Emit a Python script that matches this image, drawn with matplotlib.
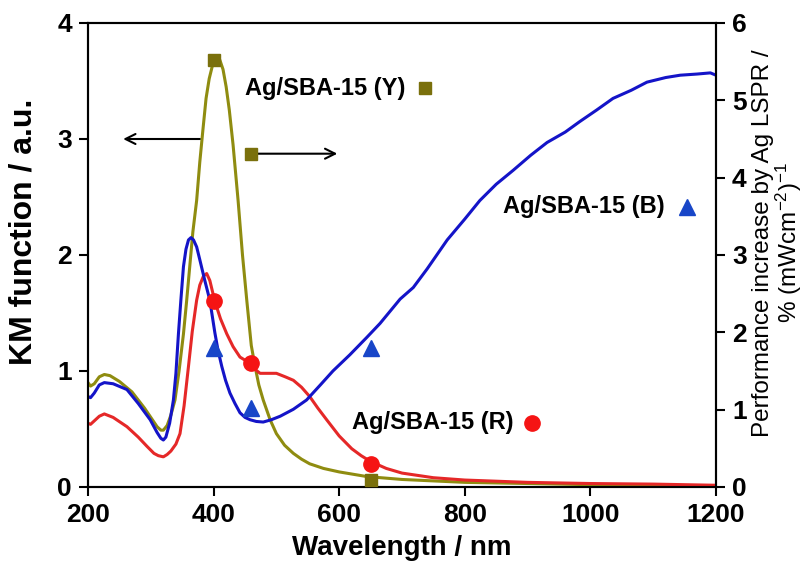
import matplotlib
matplotlib.use("Agg")
import matplotlib.pyplot as plt

plt.rcParams['font.family'] = ['Liberation Sans', 'DejaVu Sans']
plt.rcParams['mathtext.fontset'] = 'custom'
plt.rcParams['mathtext.rm'] = 'Liberation Sans'
plt.rcParams['mathtext.it'] = 'Liberation Sans:italic'
plt.rcParams['mathtext.bf'] = 'Liberation Sans:bold'

# ---- data ----
wl_y = [200, 204, 210, 218, 226, 235, 250, 270, 290, 300, 310, 316, 320, 326, 332, 338.5,
        345, 352, 357, 362, 367, 373, 378, 383, 388, 393, 398, 402, 406, 410, 415, 420,
        425, 431, 439, 446, 453, 460, 466, 472, 479, 490, 500, 513, 527, 540, 553, 575,
        600, 644, 700, 800, 900, 1000, 1100, 1200]
km_y = [0.90, 0.87, 0.89, 0.95, 0.97, 0.96, 0.91, 0.82, 0.68, 0.60, 0.52, 0.49, 0.49, 0.53, 0.62, 0.75,
        1.00, 1.32, 1.60, 1.90, 2.20, 2.47, 2.80, 3.08, 3.35, 3.52, 3.63, 3.69, 3.71, 3.68, 3.60, 3.45,
        3.25, 2.95, 2.47, 2.00, 1.60, 1.22, 1.04, 0.88, 0.75, 0.58, 0.46, 0.36, 0.29, 0.24, 0.20, 0.16,
        0.13, 0.09, 0.065, 0.04, 0.03, 0.02, 0.015, 0.01]

wl_b = [200, 204, 210, 218, 226, 240, 262, 280, 299, 310, 316, 320, 324, 330, 336, 340,
        344, 348, 352, 356, 360, 364, 368, 373, 378, 386, 394, 402, 407, 413, 419, 426,
        434, 442, 450, 458, 468, 479, 492, 506, 527, 548, 570, 590, 617, 644, 665, 697,
        718, 740, 772, 800, 824, 850, 877, 905, 931, 960, 983, 1010, 1036, 1065, 1090,
        1120, 1143, 1170, 1191, 1200]
km_b = [0.78, 0.77, 0.81, 0.88, 0.90, 0.89, 0.84, 0.72, 0.58, 0.47, 0.42, 0.405, 0.43, 0.55, 0.75, 0.98,
        1.32, 1.62, 1.90, 2.05, 2.13, 2.15, 2.13, 2.07, 1.96, 1.78, 1.61, 1.33, 1.18, 1.04, 0.92, 0.81,
        0.72, 0.64, 0.60, 0.58, 0.565, 0.56, 0.58, 0.61, 0.67, 0.75, 0.88, 1.00, 1.14, 1.29, 1.41, 1.62,
        1.72, 1.88, 2.13, 2.31, 2.47, 2.61, 2.73, 2.86, 2.97, 3.06, 3.15, 3.25, 3.35, 3.42, 3.49,
        3.53, 3.55, 3.56, 3.57, 3.55]

wl_r = [200, 204, 210, 218, 226, 240, 262, 280, 294, 305, 312, 320, 326, 332, 340, 346.5,
        353, 360, 366, 373, 378, 384, 389, 394, 402, 411, 421, 431, 442, 451, 460, 467,
        474, 487, 500, 514, 527, 540, 553, 566, 580, 600, 620, 635, 650, 675, 700, 750,
        800, 900, 1000, 1100, 1200]
km_r = [0.55, 0.54, 0.57, 0.61, 0.63, 0.60, 0.52, 0.43, 0.35, 0.29, 0.27, 0.26, 0.28, 0.31, 0.37, 0.46,
        0.70, 1.04, 1.34, 1.61, 1.74, 1.82, 1.84, 1.78, 1.60, 1.45, 1.32, 1.21, 1.12, 1.09, 1.06, 1.01,
        0.98, 0.98, 0.98, 0.95, 0.92, 0.86, 0.78, 0.68, 0.58, 0.44, 0.33, 0.27, 0.22, 0.16, 0.12, 0.08,
        0.06, 0.04, 0.03, 0.025, 0.015]

# performance increase points (right axis)
perf_wl = [400, 460, 650]
perf_y = [5.52, 4.31, 0.09]
perf_r = [2.40, 1.60, 0.30]
perf_b = [1.80, 1.02, 1.80]

labels = ["Ag/SBA-15 (Y)", "Ag/SBA-15 (B)", "Ag/SBA-15 (R)"]

c_y_line, c_y_mark = '#8f8c10', '#7a700c'
c_b_line, c_b_mark = '#1414c8', '#1846c8'
c_r_line, c_r_mark = '#e52828', '#f51414'

fig = plt.figure(figsize=(8.12, 5.65), dpi=100)
ax = fig.add_axes([88/812, 1-487/565, 628/812, 464/565])
ax2 = ax.twinx()

lw = 2.2
ax.plot(wl_y, km_y, color=c_y_line, lw=lw, zorder=3)
ax.plot(wl_r, km_r, color=c_r_line, lw=lw, zorder=3)
ax.plot(wl_b, km_b, color=c_b_line, lw=lw, zorder=4)

ax2.plot(perf_wl, perf_y, ls='none', marker='s', ms=9, color=c_y_mark, zorder=5)
ax2.plot(perf_wl, perf_r, ls='none', marker='o', ms=11, color=c_r_mark, zorder=5)
ax2.plot(perf_wl, perf_b, ls='none', marker='^', ms=11, color=c_b_mark, zorder=5)

ax.set_xlim(200, 1200)
ax.set_ylim(0, 4)
ax2.set_ylim(0, 6)
ax.set_xticks([200, 400, 600, 800, 1000, 1200])
ax.set_yticks([0, 1, 2, 3, 4])
ax2.set_yticks([0, 1, 2, 3, 4, 5, 6])

for a in (ax, ax2):
    for s in a.spines.values():
        s.set_linewidth(1.5)
    a.tick_params(width=1.5, length=6.5, direction='out', labelsize=19, pad=5)
    for t in a.get_xticklabels() + a.get_yticklabels():
        t.set_fontweight('bold')
ax.tick_params(top=False)

ax.set_xlabel("Wavelength / nm", fontsize=20, fontweight='bold', labelpad=6)
fig.text(24/812, 1-232/565, "KM function / a.u.", rotation=90, ha='center', va='center',
         fontsize=23, fontweight='bold')
fig.text(778/812, 1-243/565, "Performance increase by Ag LSPR /\n% (mWcm$^{-2}$)$^{-1}$",
         rotation=90, ha='center', va='center', fontsize=17.5, linespacing=0.98,
         multialignment='center')

# series labels with marker
fs = 17
fig.text(405/812, 1-88/565, labels[0], ha='right', va='center', fontsize=fs, fontweight='bold')
fig.lines.append(plt.Line2D([425/812], [1-88/565], transform=fig.transFigure,
                            marker='s', ms=9, color=c_y_mark, ls='none'))
fig.text(665/812, 1-207/565, labels[1], ha='right', va='center', fontsize=fs, fontweight='bold')
fig.lines.append(plt.Line2D([687/812], [1-207/565], transform=fig.transFigure,
                            marker='^', ms=11, color=c_b_mark, ls='none'))
fig.text(513/812, 1-423/565, labels[2], ha='right', va='center', fontsize=fs, fontweight='bold')
fig.lines.append(plt.Line2D([532/812], [1-423/565], transform=fig.transFigure,
                            marker='o', ms=11, color=c_r_mark, ls='none'))

# arrows
ax.annotate("", xy=(256, 3.0), xytext=(378, 3.0),
            arrowprops=dict(arrowstyle='->', lw=1.5, color='black',
                            mutation_scale=18, shrinkA=0, shrinkB=0))
ax2.annotate("", xy=(597, 4.31), xytext=(470, 4.31),
             arrowprops=dict(arrowstyle='->', lw=1.5, color='black',
                             mutation_scale=18, shrinkA=0, shrinkB=0))

fig.savefig("out.png", dpi=100)
